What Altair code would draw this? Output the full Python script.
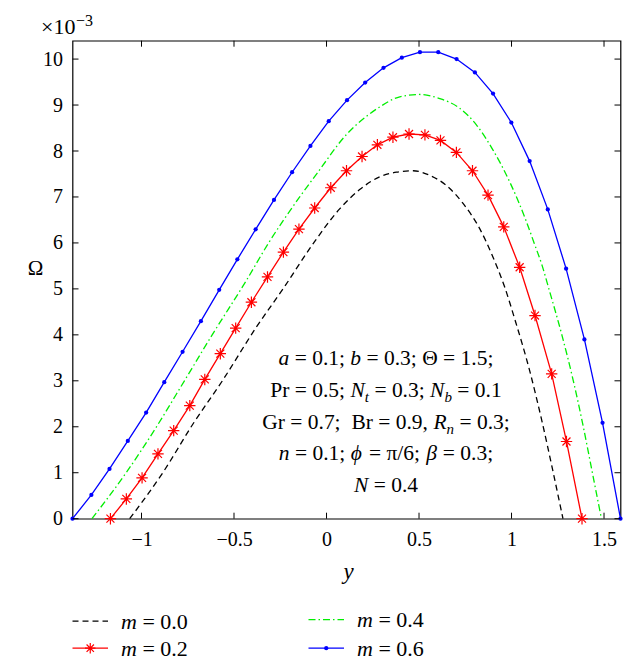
import altair as alt
import pandas as pd

# ---------------- data (Omega in units of 1e-3) ----------------
# m = 0.0 (black dashed)
y_m00 = [-1.064, -0.885, -0.722, -0.563, -0.379, -0.235, -0.073, 0.071, 0.179, 0.288, 0.378,
         0.468, 0.558, 0.648, 0.738, 0.828, 0.900, 0.963, 1.020, 1.098, 1.164, 1.223, 1.278]
om_m00 = [0, 1.0, 2.06, 3.0, 4.17, 5.0, 5.98, 6.74, 7.16, 7.44, 7.54,
          7.57, 7.47, 7.25, 6.86, 6.31, 5.69, 5.04, 4.31, 3.22, 2.13, 1.05, 0]
# m = 0.2 (red, asterisks)
y_m02 = [-1.168, -1.082, -0.997, -0.911, -0.826, -0.739, -0.658, -0.574, -0.491, -0.406, -0.319,
         -0.233, -0.149, -0.064, 0.023, 0.108, 0.192, 0.275, 0.359, 0.446, 0.532, 0.616, 0.702,
         0.789, 0.873, 0.958, 1.044, 1.127, 1.217, 1.297, 1.381]
om_m02 = [0, 0.43, 0.887, 1.41, 1.917, 2.46, 3.03, 3.59, 4.146, 4.71, 5.26,
          5.80, 6.30, 6.76, 7.20, 7.57, 7.88, 8.135, 8.30, 8.37, 8.35, 8.23, 7.97,
          7.57, 7.04, 6.35, 5.47, 4.42, 3.15, 1.68, 0]
# m = 0.4 (green dash-dot)
y_m04 = [-1.268, -1.083, -0.919, -0.768, -0.618, -0.433, -0.313, -0.232, -0.145, -0.05, 0.108,
         0.224, 0.288, 0.396, 0.504, 0.612, 0.72, 0.81, 0.9, 0.99, 1.077, 1.122, 1.166, 1.202,
         1.272, 1.334, 1.388, 1.437, 1.486]
om_m04 = [0, 1, 2, 3, 4, 5.185, 6.0, 6.5, 7.0, 7.52, 8.36,
          8.78, 8.96, 9.18, 9.23, 9.14, 8.93, 8.57, 8.02, 7.33, 6.5, 6.0, 5.5, 5.0,
          4.0, 3.0, 2.0, 1.0, 0]
# m = 0.6 (blue, dots)
y_m06 = [-1.373, -1.271, -1.173, -1.074, -0.975, -0.877, -0.778, -0.679, -0.580, -0.482, -0.383,
         -0.284, -0.186, -0.087, 0.012, 0.111, 0.209, 0.308, 0.407, 0.505, 0.604, 0.703, 0.802,
         0.900, 0.999, 1.098, 1.196, 1.295, 1.394, 1.492, 1.589]
om_m06 = [0, 0.516, 1.083, 1.693, 2.309, 2.970, 3.632, 4.298, 4.98, 5.643, 6.296,
          6.935, 7.538, 8.11, 8.649, 9.107, 9.49, 9.81, 10.03, 10.15, 10.15, 10.0, 9.71,
          9.25, 8.62, 7.78, 6.73, 5.44, 3.90, 2.085, 0]

x_ticks = [-1, -0.5, 0, 0.5, 1, 1.5]
y_ticks = [0, 1, 2, 3, 4, 5, 6, 7, 8, 9, 10]
legend_labels = ["0.0", "0.2", "0.4", "0.6"]

annotation = [
    [("a", "i"), (" = 0.1; ", "r"), ("b", "i"), (" = 0.3; Θ = 1.5;", "r")],
    [("Pr = 0.5; ", "r"), ("N", "i"), ("t", "s"), (" = 0.3; ", "r"), ("N", "i"), ("b", "s"), (" = 0.1", "r")],
    [("Gr = 0.7;  ", "r"), ("Br = 0.9, ", "r"), ("R", "i"), ("n", "s"), (" = 0.3;", "r")],
    [("n", "i"), (" = 0.1; ", "r"), ("ϕ", "i"), (" = π/6; ", "r"), ("β", "i"), (" = 0.3;", "r")],
    [("N", "i"), (" = 0.4", "r")],
]

# ---------------- layout ----------------
W, H = 548, 478
X_MIN, X_MAX = -1.373, 1.589
Y_MAX = 10.4
FONT = "Liberation Serif"
BLUE, RED, GREEN, BLACK = "#0000ff", "#ff0000", "#00ee00", "#000000"
ASTER = "M-1,0L1,0M0,-1L0,1M-0.7,-0.7L0.7,0.7M-0.7,0.7L0.7,-0.7"
ANN_SIZE, LEG_SIZE, SUB_SIZE = 21.5, 22, 15


def px_to_x(px):
    return X_MIN + px * (X_MAX - X_MIN) / W


def py_to_v(py):
    return Y_MAX * (1 - py / H)


REG = {' ': 250, '.': 250, ',': 250, ';': 278, '/': 278, '=': 564, 'P': 556, 'r': 333,
       'G': 722, 'B': 667, 'Θ': 722, 'π': 549, '−': 564}
ITA = {'a': 500, 'b': 500, 'n': 500, 'N': 667, 'R': 611, 't': 278, 'm': 722, 'ϕ': 600,
       'β': 520, 'y': 444}


def text_width(s, style, size):
    tab = REG if style == "r" else ITA
    tot = 0
    for ch in s:
        if ch.isdigit():
            tot += 500
        else:
            tot += tab.get(ch, REG.get(ch, 500))
    return tot * size / 1000.0


def layout(segments, x0, base, size, tag, center=True):
    widths = [text_width(t, st, SUB_SIZE if st == "s" else size) for t, st in segments]
    x = x0 - sum(widths) / 2 if center else x0
    rows = []
    for (t, st), w in zip(segments, widths):
        fs = SUB_SIZE if st == "s" else size
        lead = len(t) - len(t.lstrip(" "))
        stripped = t.strip(" ")
        if stripped:
            rows.append({"x": px_to_x(x + lead * 0.25 * fs),
                         "v": py_to_v(base + (5 if st == "s" else 0)),
                         "text": stripped, "style": st + ("" if st == "s" else tag)})
        x += w
    return rows


xs = alt.Scale(domain=[X_MIN, X_MAX], nice=False, zero=False)
ys = alt.Scale(domain=[0, Y_MAX], nice=False, zero=False)
X = alt.X("x:Q", scale=xs, axis=alt.Axis(values=x_ticks, format="~g", title=None, grid=False,
                                          domain=False, ticks=False, labelFont=FONT,
                                          labelFontSize=20, labelColor="black", labelPadding=11,
                                          labelFlush=False, labelOverlap=False))
Y = alt.Y("v:Q", scale=ys, axis=alt.Axis(values=y_ticks, format="d", title=None, grid=False,
                                          domain=False, ticks=False, labelFont=FONT,
                                          labelFontSize=20, labelColor="black", labelPadding=10,
                                          labelFlush=False, labelOverlap=False))

df00 = pd.DataFrame({"x": y_m00, "v": om_m00})
df02 = pd.DataFrame({"x": y_m02, "v": om_m02})
df04 = pd.DataFrame({"x": y_m04, "v": om_m04})
df06 = pd.DataFrame({"x": y_m06, "v": om_m06})

SW = 1.3
layers = []
layers.append(alt.Chart(df00).mark_line(color=BLACK, strokeWidth=SW, strokeDash=[6, 4],
                                        interpolate="monotone").encode(x=X, y=Y))
layers.append(alt.Chart(df04).mark_line(color=GREEN, strokeWidth=SW, strokeDash=[7, 3, 1.5, 3],
                                        interpolate="monotone").encode(x=X, y=Y))
layers.append(alt.Chart(df06).mark_line(color=BLUE, strokeWidth=SW).encode(x=X, y=Y))
layers.append(alt.Chart(df06).mark_point(color=BLUE, filled=True, shape="circle", size=18,
                                         opacity=1).encode(x=X, y=Y))
layers.append(alt.Chart(df02).mark_line(color=RED, strokeWidth=SW).encode(x=X, y=Y))
layers.append(alt.Chart(df02).mark_point(color=RED, filled=False, shape=ASTER, size=130,
                                         strokeWidth=1.2, opacity=1).encode(x=X, y=Y))

# inward ticks on all four sides
xt = pd.DataFrame({"x": x_ticks})
yt = pd.DataFrame({"v": y_ticks})
layers.append(alt.Chart(xt).mark_rule(color="black", strokeWidth=1).encode(
    x=X, y=alt.value(H), y2=alt.value(H - 6)))
layers.append(alt.Chart(xt).mark_rule(color="black", strokeWidth=1).encode(
    x=X, y=alt.value(0), y2=alt.value(6)))
layers.append(alt.Chart(yt).mark_rule(color="black", strokeWidth=1).encode(
    y=Y, x=alt.value(0), x2=alt.value(6)))
layers.append(alt.Chart(yt).mark_rule(color="black", strokeWidth=1).encode(
    y=Y, x=alt.value(W), x2=alt.value(W - 6)))

# annotation text
rows = []
bases = [324.8, 356.6, 388.3, 419.8, 451.0]
for segs, b in zip(annotation, bases):
    rows += layout(segs, 313.5, b, ANN_SIZE, "")

# legend (positions relative to the plot's top-left corner)
leg_pos = [(0.0, 580.5), (0.0, 607.5), (236.0, 579.0), (236.0, 607.5)]
leg_line_len = 35.5
for lab, (lx, ly) in zip(legend_labels, leg_pos):
    rows += layout([("m", "i"), (" = " + lab, "r")], lx + 48.5, ly + 7.5, LEG_SIZE, "L",
                   center=False)

# titles
rows += [{"x": px_to_x(276), "v": py_to_v(538), "text": "y", "style": "title_i"}]
rows += [{"x": px_to_x(-37), "v": py_to_v(234), "text": "Ω", "style": "title_r"}]
rows += [{"x": px_to_x(-31.5), "v": py_to_v(-7.0), "text": "×10", "style": "title_l"}]
rows += [{"x": px_to_x(3.5), "v": py_to_v(-14.5), "text": "−3", "style": "sup"}]

tdf = pd.DataFrame(rows)
styles = {
    "r": dict(fontStyle="normal", fontSize=ANN_SIZE, align="left"),
    "i": dict(fontStyle="italic", fontSize=ANN_SIZE, align="left"),
    "s": dict(fontStyle="italic", fontSize=SUB_SIZE, align="left"),
    "rL": dict(fontStyle="normal", fontSize=LEG_SIZE, align="left"),
    "iL": dict(fontStyle="italic", fontSize=LEG_SIZE, align="left"),
    "title_i": dict(fontStyle="italic", fontSize=23, align="center"),
    "title_r": dict(fontStyle="normal", fontSize=21, align="center"),
    "title_l": dict(fontStyle="normal", fontSize=22, align="left"),
    "sup": dict(fontStyle="normal", fontSize=16, align="left"),
}
for st, props in styles.items():
    sub = tdf[tdf["style"] == st]
    if len(sub):
        layers.append(alt.Chart(sub).mark_text(font=FONT, color="black", baseline="alphabetic",
                                               **props).encode(x=X, y=Y, text="text:N"))

# legend lines and markers
leg_line = pd.DataFrame({
    "x": [px_to_x(p[0]) for p in leg_pos],
    "x2": [px_to_x(p[0] + leg_line_len) for p in leg_pos],
    "v": [py_to_v(p[1]) for p in leg_pos],
    "k": legend_labels,
})
leg_mark = pd.DataFrame({
    "x": [px_to_x(p[0] + leg_line_len / 2) for p in leg_pos],
    "v": [py_to_v(p[1]) for p in leg_pos],
    "k": legend_labels,
})
leg_style = {"0.0": (BLACK, [6, 4]), "0.2": (RED, None), "0.4": (GREEN, [7, 3, 1.5, 3]),
             "0.6": (BLUE, None)}
for lab, (col, dash) in leg_style.items():
    d = leg_line[leg_line["k"] == lab]
    kw = dict(color=col, strokeWidth=SW)
    if dash:
        kw["strokeDash"] = dash
    layers.append(alt.Chart(d).mark_rule(**kw).encode(x=X, x2="x2:Q", y=Y))
layers.append(alt.Chart(leg_mark[leg_mark["k"] == "0.2"]).mark_point(
    color=RED, filled=False, shape=ASTER, size=110, strokeWidth=1.2, opacity=1).encode(x=X, y=Y))
layers.append(alt.Chart(leg_mark[leg_mark["k"] == "0.6"]).mark_point(
    color=BLUE, filled=True, shape="circle", size=18, opacity=1).encode(x=X, y=Y))

chart = alt.layer(*layers).properties(
    width=W, height=H,
    padding={"left": 64.5, "top": 32.7, "right": 7, "bottom": 145},
    autosize=alt.AutoSizeParams(type="none"),
).configure_view(stroke="black", strokeWidth=1.2)

chart.save("out.html", embed_options={"renderer": "svg", "actions": False})
